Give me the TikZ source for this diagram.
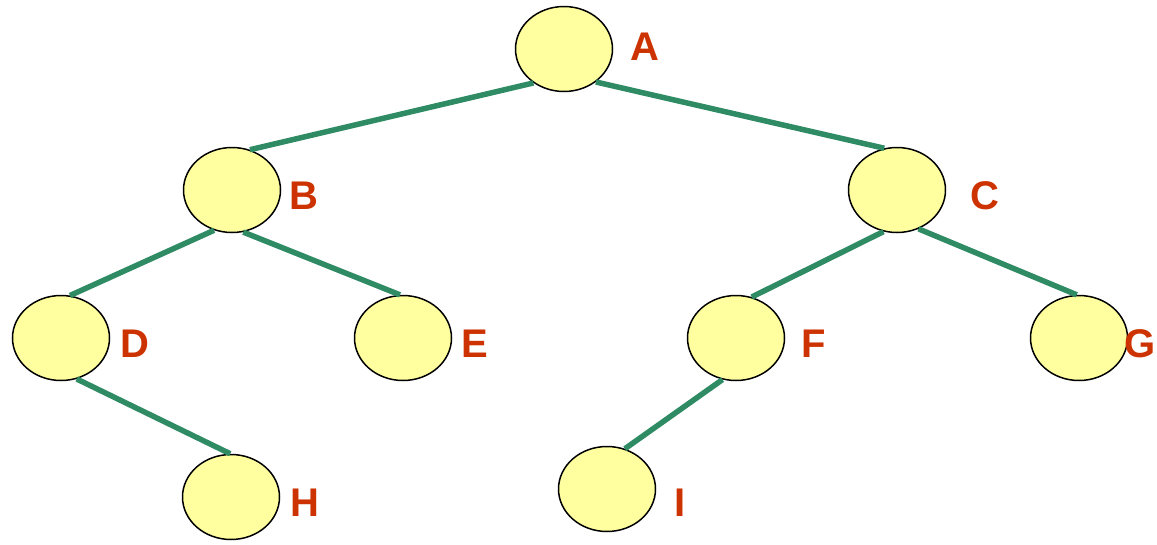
\documentclass[tikz,border=0pt]{standalone}
\usepackage{fontspec}
\setmainfont{Liberation Sans}
\usetikzlibrary{shapes.geometric}
\definecolor{edgegreen}{RGB}{46,139,100}
\definecolor{nodefill}{RGB}{255,255,160}
\definecolor{labelred}{RGB}{204,51,0}
\tikzset{
  vert/.style={ellipse, draw=black, line width=1.5pt, fill=nodefill, minimum width=97pt, minimum height=85pt, inner sep=0pt},
  vlabel/.style={text=labelred, font=\fontsize{40}{40}\selectfont\bfseries, inner sep=0pt},
  link/.style={draw=edgegreen, line width=5.5pt}
}
\begin{document}
\begin{tikzpicture}[x=1pt,y=-1pt]
\useasboundingbox (0,0) rectangle (1157,544);
\node[vert] (A) at (564,49) {};
\node[vert] (B) at (232,190) {};
\node[vert] (C) at (897,190) {};
\node[vert] (D) at (61,338) {};
\node[vert] (E) at (403,338) {};
\node[vert] (F) at (736,338) {};
\node[vert] (G) at (1079,338) {};
\node[vert] (H) at (231,497) {};
\node[vert] (I) at (607,489) {};
\node[vlabel] (lA) at (645,47) {A};
\node[vlabel] (lB) at (304,196) {B};
\node[vlabel] (lC) at (985,196) {C};
\node[vlabel] (lD) at (135,344) {D};
\node[vlabel] (lE) at (475,344) {E};
\node[vlabel] (lF) at (814,344) {F};
\node[vlabel] (lG) at (1140,344) {G};
\node[vlabel] (lH) at (305,503) {H};
\node[vlabel] (lI) at (680,503) {I};
\draw[link] (A.228) -- (B.66);
\draw[link] (A.314) -- (C.107);
\draw[link] (B.246) -- (D.78);
\draw[link] (B.285) -- (E.94);
\draw[link] (C.252) -- (F.69);
\draw[link] (C.299) -- (G.93);
\draw[link] (D.291) -- (H.91);
\draw[link] (F.252) -- (I.66);
\end{tikzpicture}
\end{document}
